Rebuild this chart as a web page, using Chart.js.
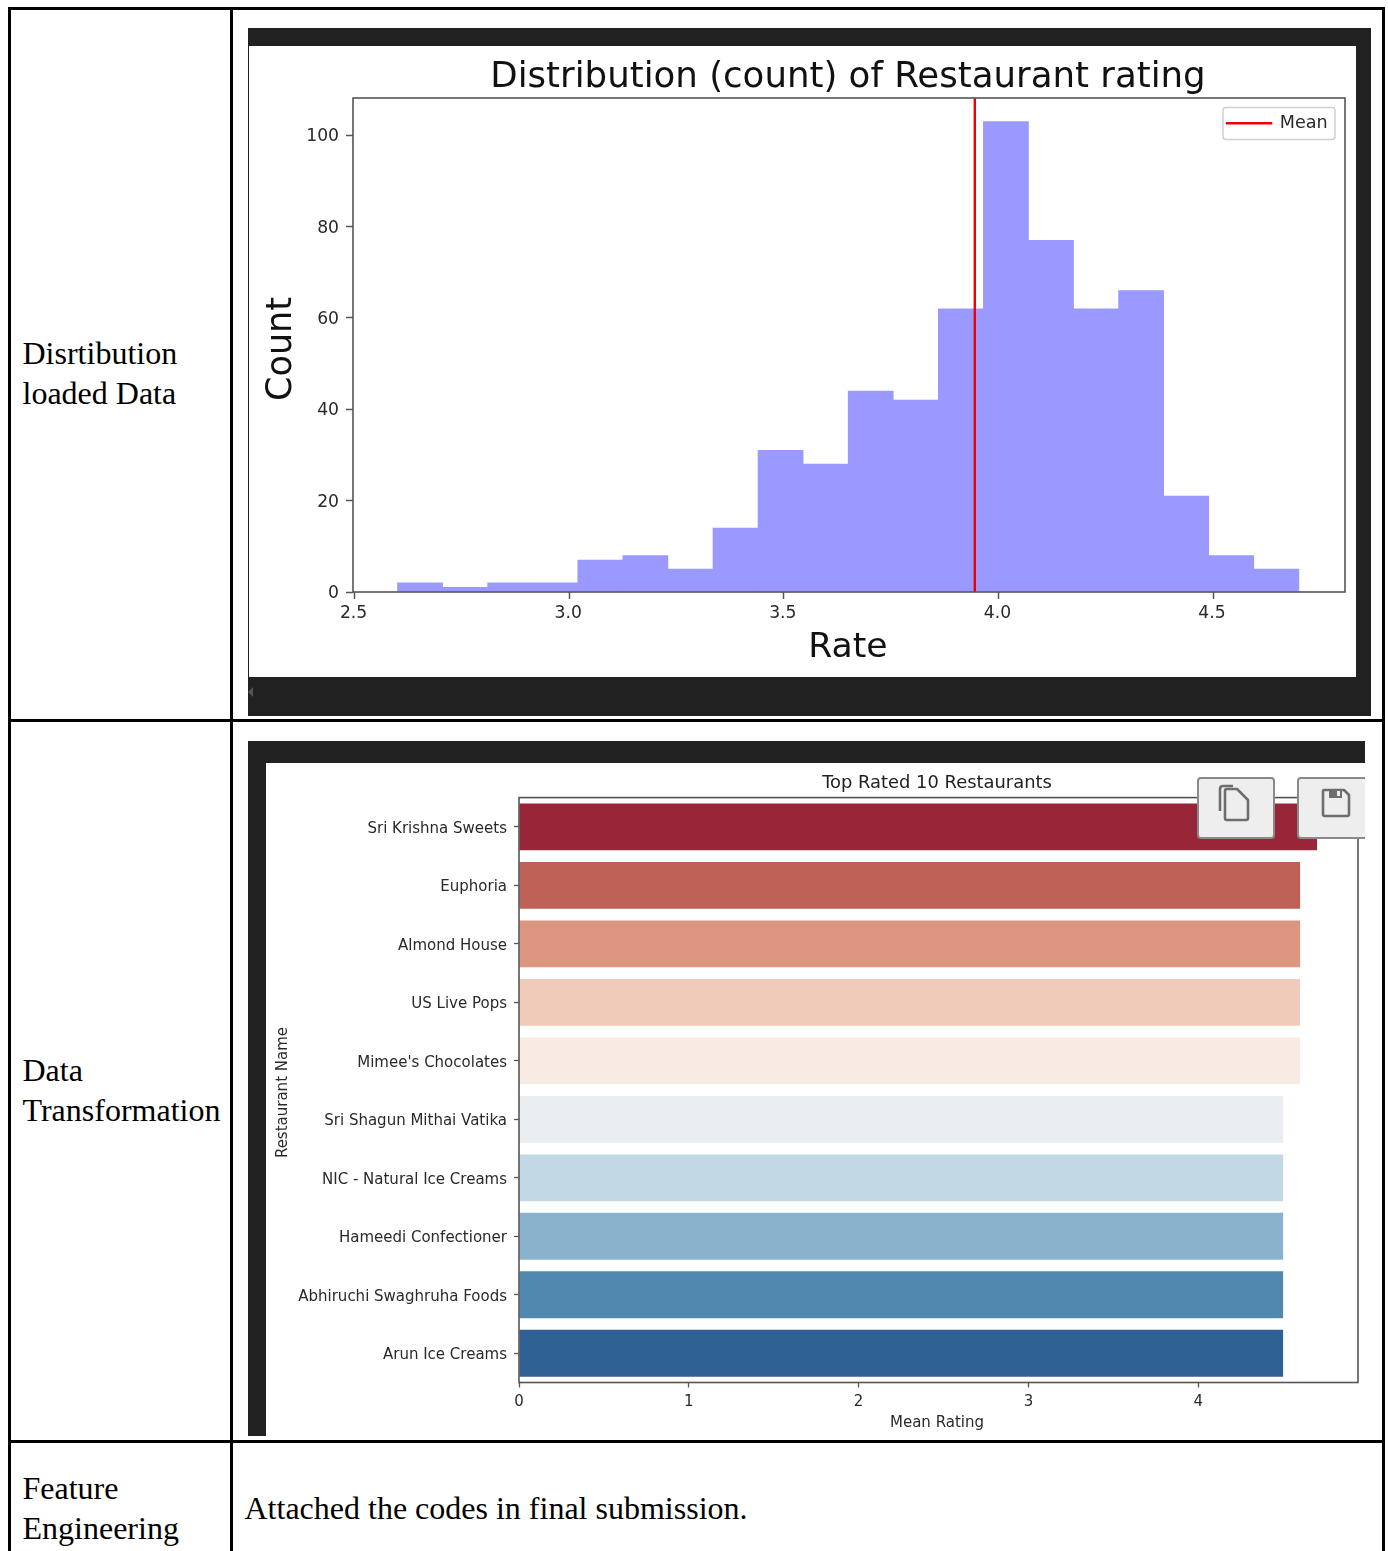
<!DOCTYPE html>
<html><head><meta charset="utf-8">
<script src="https://cdn.jsdelivr.net/npm/chart.js@4/dist/chart.umd.js"></script>
<style>
html,body{margin:0;padding:0;background:#fff;width:1388px;height:1551px;overflow:hidden}
.abs{position:absolute}
.rule{position:absolute;background:#000}
.dark{position:absolute;background:#212121}
.cell{position:absolute;font-family:"Liberation Serif",serif;font-size:32px;line-height:40px;color:#000;white-space:nowrap}
canvas{position:absolute;display:block;background:#fff}
#hist{filter:blur(.6px)}
#top{filter:blur(.7px)}
.btn{position:absolute;background:#eeeeee;border:2px solid #8a8a8a;border-radius:4px;box-sizing:border-box;filter:blur(.4px)}
</style></head><body>
<div class="rule" style="left:8px;top:7px;width:1377px;height:3px"></div>
<div class="rule" style="left:8px;top:719px;width:1377px;height:3px"></div>
<div class="rule" style="left:8px;top:1440px;width:1377px;height:3px"></div>
<div class="rule" style="left:8px;top:7px;width:3px;height:1544px"></div>
<div class="rule" style="left:230px;top:7px;width:3px;height:1544px"></div>
<div class="rule" style="left:1382px;top:7px;width:3px;height:1544px"></div>

<div class="cell" style="left:22.5px;top:333px">Disrtibution<br>loaded Data</div>
<div class="cell" style="left:22.5px;top:1050px">Data<br>Transformation</div>
<div class="cell" style="left:22.5px;top:1468px">Feature<br>Engineering</div>
<div class="cell" style="left:244.5px;top:1488px">Attached the codes in final submission.</div>

<div class="dark" style="left:248px;top:28px;width:1123px;height:688px"></div>
<svg class="abs" style="left:248px;top:686px" width="6" height="12"><path d="M0 6L5 1V11Z" fill="#555"/></svg>
<canvas id="hist" style="left:249px;top:46px" width="1107" height="631"></canvas>

<div class="dark" style="left:248px;top:741px;width:1117px;height:695px"></div>
<canvas id="top" style="left:266px;top:763px" width="1099" height="673"></canvas>

<div class="btn" style="left:1197px;top:777px;width:78px;height:62px"></div>
<svg class="abs" style="left:1215px;top:782px;filter:blur(.4px)" width="40" height="42" fill="none" stroke="#6e6e6e" stroke-width="2.6" stroke-linejoin="round">
  <path d="M5 29V7q0-3 3-3h10"/>
  <path d="M11 37V10q0-2 2-2h10l11 11v18q0 2-2 2H13q-2 0-2-2Z" transform="translate(-1,-1)"/>
</svg>
<div style="position:absolute;left:1297px;top:777px;width:68px;height:62px;overflow:hidden">
  <div class="btn" style="left:0;top:0;width:90px;height:62px"></div>
</div>
<svg class="abs" style="left:1320px;top:787px;filter:blur(.4px)" width="32" height="32" fill="none" stroke="#6e6e6e" stroke-width="2.6" stroke-linejoin="round">
  <path d="M4 3H24L29 8V27q0 2-2 2H5q-2 0-2-2V5q0-2 1-2Z"/>
  <path d="M9 3V11H22V3Z" fill="#6e6e6e" stroke="none"/>
  <path d="M17 4H20V9H17Z" fill="#eee" stroke="none"/>
</svg>

<script>
// ---- histogram data ----
const histTitle = "Distribution (count) of Restaurant rating";
const binCenters = [2.6525,2.7575,2.8625,2.9675,3.0725,3.1775,3.2825,3.3875,3.4925,3.5975,3.7025,3.8075,3.9125,4.0175,4.1225,4.2275,4.3325,4.4375,4.5425,4.6475];
const binCounts  = [2,1,2,2,7,8,5,14,31,28,44,42,62,103,77,62,66,21,8,5];
const meanRate = 3.945;
const histXRange = [2.4963, 4.8075];
const histYRange = [0, 108.15];

// ---- top restaurants data ----
const topTitle = "Top Rated 10 Restaurants";
const restaurants = ["Sri Krishna Sweets","Euphoria","Almond House","US Live Pops","Mimee's Chocolates","Sri Shagun Mithai Vatika","NIC - Natural Ice Creams","Hameedi Confectioner","Abhiruchi Swaghruha Foods","Arun Ice Creams"];
const meanRatings = [4.7,4.6,4.6,4.6,4.6,4.5,4.5,4.5,4.5,4.5];
const barColors = ["#992638","#bd6056","#dc9680","#f1cbb9","#f7ebe4","#e9eef2","#c3d8e5","#89b3cd","#5088b0","#2f6194"];
const topXRange = [0, 4.941];

const FONT = "'DejaVu Sans'";
const INK = "#2a2a2a";
const SPINE = "#555555";

// nudges an axis title along/across the axis without changing the plot box
const nudgeTitle = (dx,dy) => function(s){
  if (s._nudged) return;
  s._nudged = true;
  const orig = s.drawTitle;
  s.drawTitle = function(){ const c=this.ctx; c.save(); c.translate(dx,dy); orig.call(this); c.restore(); };
};

const frame = {
  id:'frame',
  afterDatasetsDraw(c){
    const a=c.chartArea, x=c.ctx;
    x.save(); x.strokeStyle=SPINE; x.lineWidth=1.6;
    x.strokeRect(a.left,a.top,a.right-a.left,a.bottom-a.top);
    x.restore();
  }
};

const titleShift = dx => ({
  id:'titleShift',
  afterLayout(c){ c.titleBlock.left+=dx; c.titleBlock.right+=dx; }
});

const legendBox = {
  id:'legendBox',
  afterLayout(c){
    const l=c.legend;
    const w=l.right-l.left, h=l.bottom-l.top;
    l.left=968; l.right=968+w; l.top=58.4; l.bottom=58.4+h;
  },
  beforeDraw(c){
    const x=c.ctx;
    x.save(); x.fillStyle='#fff'; x.strokeStyle='#cfcfcf'; x.lineWidth=1.5;
    x.beginPath(); x.roundRect(974,61.5,112,32,3); x.fill(); x.stroke();
    x.restore();
  }
};

new Chart(document.getElementById('hist'),{
  type:'bar',
  data:{datasets:[
    {type:'line',label:'Mean',order:0,data:[{x:meanRate,y:histYRange[0]},{x:meanRate,y:histYRange[1]}],
     borderColor:'#f00000',backgroundColor:'#f00000',borderWidth:2.4,pointRadius:0,tension:0},
    {type:'bar',label:'Count',order:1,data:binCenters.map((v,i)=>({x:v,y:binCounts[i]})),
     backgroundColor:'#9999ff',borderWidth:0,barPercentage:1,categoryPercentage:1}
  ]},
  options:{
    responsive:false,animation:false,devicePixelRatio:1,
    layout:{padding:{left:0,right:11,top:0,bottom:0}},
    plugins:{
      tooltip:{enabled:false},
      title:{display:true,text:histTitle,fullSize:false,color:'#111',font:{family:FONT,size:35.6,weight:'normal',lineHeight:1},padding:{top:14.2,bottom:2.2}},
      legend:{position:'chartArea',align:'start',
        labels:{filter:i=>i.text==='Mean',boxWidth:44,boxHeight:.1,color:INK,font:{family:FONT,size:17.6},padding:10}}
    },
    scales:{
      x:{type:'linear',offset:false,min:histXRange[0],max:histXRange[1],
        afterFit(s){s.height=85},
        afterUpdate:nudgeTitle(-1,0),
        border:{display:false},
        grid:{offset:false,drawOnChartArea:false,drawTicks:true,tickLength:7,tickColor:SPINE,tickWidth:1.5},
        ticks:{stepSize:.5,includeBounds:false,color:INK,font:{family:FONT,size:17.2},padding:4,maxRotation:0,labelOffset:-1,callback:v=>v.toFixed(1)},
        title:{display:true,text:'Rate',color:'#111',font:{family:FONT,size:34.6,weight:'normal',lineHeight:1.2},padding:{top:0,bottom:8.5}}
      },
      y:{min:histYRange[0],max:histYRange[1],
        afterFit(s){s.width=104},
        afterUpdate:nudgeTitle(-1,4),
        border:{display:false},
        grid:{drawOnChartArea:false,drawTicks:true,tickLength:7,tickColor:SPINE,tickWidth:1.5},
        ticks:{stepSize:20,includeBounds:false,color:INK,font:{family:FONT,size:17.2},padding:7,labelOffset:1.5},
        title:{display:true,text:'Count',color:'#111',font:{family:FONT,size:35,weight:'normal',lineHeight:1.2},padding:{top:12.5,bottom:0}}
      }
    }
  },
  plugins:[frame,legendBox,titleShift(-1)]
});

new Chart(document.getElementById('top'),{
  type:'bar',
  data:{labels:restaurants,datasets:[{label:'Mean Rating',data:meanRatings,backgroundColor:barColors,borderWidth:0,barPercentage:.8,categoryPercentage:1}]},
  options:{
    indexAxis:'y',responsive:false,animation:false,devicePixelRatio:1,
    layout:{padding:{left:0,right:7,top:0,bottom:0}},
    plugins:{
      tooltip:{enabled:false},legend:{display:false},
      title:{display:true,text:topTitle,fullSize:false,color:'#222',font:{family:FONT,size:17.9,weight:'normal',lineHeight:1.2},padding:{top:9.5,bottom:3.6}}
    },
    scales:{
      x:{type:'linear',min:topXRange[0],max:topXRange[1],
        afterFit(s){s.height=53.5},
        afterUpdate:nudgeTitle(-1.5,0),
        border:{display:false},
        grid:{drawOnChartArea:false,drawTicks:true,tickLength:5,tickColor:SPINE,tickWidth:1.3},
        ticks:{stepSize:1,includeBounds:false,color:INK,font:{family:FONT,size:15},padding:6,maxRotation:0},
        title:{display:true,text:'Mean Rating',color:INK,font:{family:FONT,size:15,weight:'normal',lineHeight:1.2},padding:{top:0,bottom:4}}
      },
      y:{type:'category',offset:true,
        afterFit(s){s.width=253},
        afterUpdate:nudgeTitle(0,2.5),
        border:{display:false},
        grid:{offset:false,drawOnChartArea:false,drawTicks:true,tickLength:5,tickColor:SPINE,tickWidth:1.3},
        ticks:{color:INK,font:{family:FONT,size:15},padding:7,autoSkip:false,labelOffset:2},
        title:{display:true,text:'Restaurant Name',color:INK,font:{family:FONT,size:15,weight:'normal',lineHeight:1.2},padding:{top:8,bottom:0}}
      }
    }
  },
  plugins:[frame,titleShift(-1.5)]
});
</script>
</body></html>
